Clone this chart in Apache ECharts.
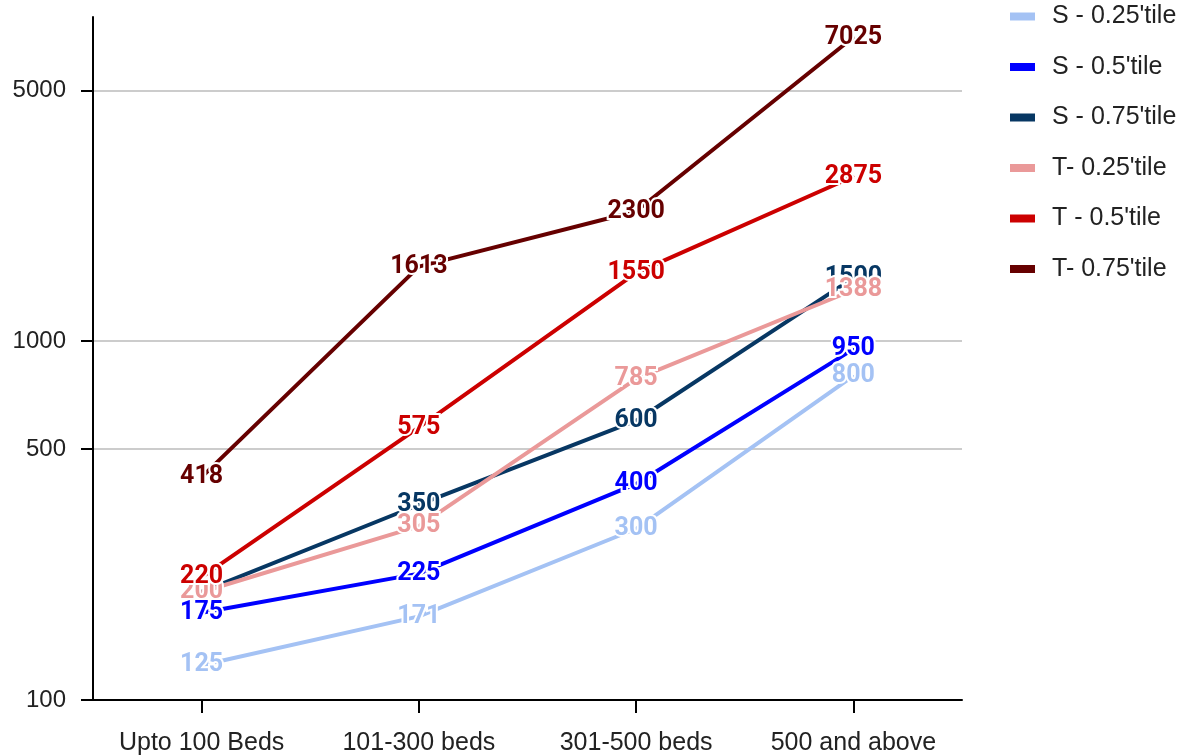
<!DOCTYPE html>
<html>
<head>
<meta charset="utf-8">
<script src="https://cdn.jsdelivr.net/npm/echarts@6/dist/echarts.min.js"></script>
<style>html,body{margin:0;padding:0;background:#fff}#c{width:1183px;height:756px}</style>
</head>
<body>
<div id="c"></div>
<script>
const categories = ['Upto 100 Beds', '101-300 beds', '301-500 beds', '500 and above'];
const seriesNames = ["S - 0.25'tile", "S - 0.5'tile", "S - 0.75'tile", "T- 0.25'tile", "T - 0.5'tile", "T- 0.75'tile"];
const s025 = [125, 171, 300, 800];
const s05 = [175, 225, 400, 950];
const s075 = [200, 350, 600, 1500];
const t025 = [200, 305, 785, 1388];
const t05 = [220, 575, 1550, 2875];
const t075 = [418, 1613, 2300, 7025];
const yTicks = [100, 500, 1000, 5000];
const colors = ['#a4c2f4', '#0000ff', '#073763', '#ea9999', '#cc0000', '#660000'];
const hiddenLabels = { 2: [0] };

const allData = [s025, s05, s075, t025, t05, t075];
const chart = echarts.init(document.getElementById('c'));
const series = allData.map((d, i) => ({
  name: seriesNames[i],
  type: 'line',
  data: d.map((v, j) => (hiddenLabels[i] && hiddenLabels[i].includes(j)) ? { value: v, label: { show: false } } : v),
  symbol: 'circle',
  symbolSize: 2,
  lineStyle: { width: 4, color: colors[i] },
  itemStyle: { color: colors[i] },
  label: {
    show: true,
    position: 'inside',
    color: colors[i],
    fontFamily: 'Roboto',
    fontWeight: 'bold',
    fontSize: 25,
    textBorderColor: '#fff',
    textBorderWidth: 4
  },
  emphasis: { disabled: true },
  animation: false
}));

chart.setOption({
  backgroundColor: '#fff',
  animation: false,
  color: colors,
  grid: { left: 93, right: 221, top: 17, bottom: 56, containLabel: false },
  legend: {
    orient: 'vertical',
    left: 1010,
    top: 4,
    padding: 0,
    icon: 'rect',
    itemWidth: 25,
    itemHeight: 8,
    itemGap: 25.5,
    textStyle: { fontFamily: 'Liberation Sans, Arial', fontSize: 25, color: '#222', lineHeight: 24, padding: [0, 0, 0, 12] },
    data: seriesNames
  },
  xAxis: {
    type: 'category',
    data: categories,
    boundaryGap: true,
    axisLine: { show: true, lineStyle: { color: '#000', width: 2 } },
    axisTick: { show: true, alignWithLabel: true, length: 13, lineStyle: { color: '#000', width: 2 } },
    axisLabel: { fontFamily: 'Liberation Sans, Arial', fontSize: 25, color: '#222', margin: 31 },
    splitLine: { show: false }
  },
  yAxis: {
    type: 'log',
    logBase: 10,
    min: 100,
    max: 8000,
    axisLine: { show: true, lineStyle: { color: '#000', width: 2 } },
    axisTick: { show: true, length: 12, customValues: yTicks, lineStyle: { color: '#000', width: 2 } },
    axisLabel: { customValues: yTicks, formatter: v => String(v), fontFamily: 'Liberation Sans, Arial', fontSize: 24, color: '#222', margin: 27 },
    splitLine: { show: true, lineStyle: { color: '#cccccc', width: 2 } }
  },
  series: series
});
</script>
</body>
</html>
